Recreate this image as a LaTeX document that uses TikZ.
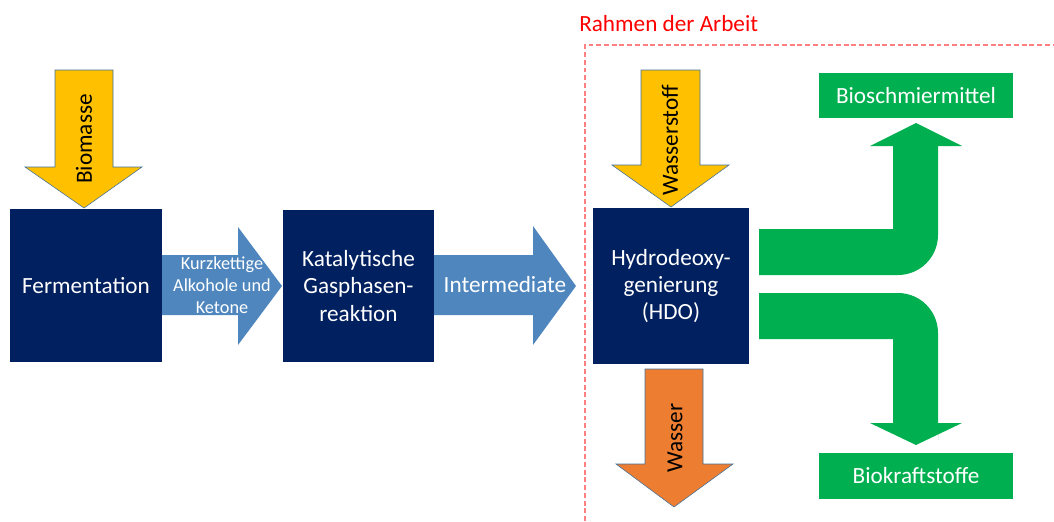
\documentclass[tikz,border=0pt]{standalone}
\usepackage{fontspec}
\setmainfont{Carlito}

\definecolor{navy}{HTML}{002060}
\definecolor{pfeilblau}{HTML}{4F86BE}
\definecolor{gelb}{HTML}{FFC000}
\definecolor{orangepf}{HTML}{ED7D31}
\definecolor{gruen}{HTML}{00B050}
\definecolor{umriss}{HTML}{41719C}
\definecolor{rahmenrot}{HTML}{FF8080}

\tikzset{
  prozess/.style={fill=navy, text=white, align=center, inner sep=0pt,
    font=\fontsize{16.5}{19.5}\selectfont},
  produkt/.style={fill=gruen, text=white, inner sep=0pt,
    minimum width=4.85cm, minimum height=1.14cm, font=\fontsize{16.5}{19}\selectfont},
  pfeilgelb/.style={fill=gelb, draw=umriss, line width=0.4pt},
  pfeilorange/.style={fill=orangepf, draw=umriss, line width=0.4pt},
  pfeilblau/.style={fill=pfeilblau},
  pfeilgruen/.style={fill=gruen},
  stofftext/.style={rotate=90, text=black, font=\fontsize{16.5}{19}\selectfont},
  rahmenlinie/.style={draw=rahmenrot, line width=0.8pt, dash pattern=on 3.5pt off 2pt},
}

\begin{document}
\begin{tikzpicture}[x=0.025cm,y=-0.025cm]
  \useasboundingbox (0,0) rectangle (1054,521);

  % Prozessschritte
  \node[prozess, minimum width=3.8cm, minimum height=3.825cm] (ferm) at (86,285.5) {Fermentation};
  \node[prozess, minimum width=3.775cm, minimum height=3.8cm] (kat) at (358.5,286) {Katalytische\\Gasphasen-\\reaktion};
  \node[prozess, minimum width=3.9cm, minimum height=3.9cm] (hdo) at (671,286) {Hydrodeoxy-\\genierung\\(HDO)};

  % Produkte
  \node[produkt] (bsm) at (916,95.5) {Bioschmiermittel};
  \node[produkt] (bks) at (916,476) {Biokraftstoffe};

  % Zufuhr / Abfuhr
  \draw[pfeilgelb] (55,70) -- (113,70) -- (113,167) -- (142,167) -- (84,208) -- (25,167) -- (55,167) -- cycle;
  \node[stofftext] (biomasse) at (84,139) {Biomasse};

  \draw[pfeilgelb] (641,70) -- (700,70) -- (700,165) -- (729,165) -- (671,207) -- (612,165) -- (641,165) -- cycle;
  \node[stofftext] (wasserstoff) at (670,140) {Wasserstoff};

  \draw[pfeilorange] (645,369) -- (703,369) -- (703,464) -- (733,464) -- (674,507) -- (616,464) -- (645,464) -- cycle;
  \node[stofftext] (wasser) at (675,438) {Wasser};

  % Zwischenprodukte
  \fill[pfeilblau] (162,255) -- (238,255) -- (238,227) -- (282,286) -- (238,345) -- (238,315) -- (162,315) -- cycle;
  \node[text=white, align=center, font=\fontsize{13}{15.5}\selectfont] (kurz) at (222,285) {Kurzkettige\\Alkohole und\\Ketone};

  \fill[pfeilblau] (434,255) -- (533,255) -- (533,226) -- (576,286) -- (533,345) -- (533,315) -- (434,315) -- cycle;
  \node[text=white, font=\fontsize{16.5}{19}\selectfont] (inter) at (505,285) {Intermediate};

  % Aufteilung nach HDO
  \fill[pfeilgruen] (759,229) -- (893,229) -- (893,146) -- (870,146) -- (916,123) -- (962,146)
    -- (938,146) -- (938,160) [rounded corners=1cm] -- (938,275) -- (800,275) [sharp corners] -- (759,275) -- cycle;
  \fill[pfeilgruen] (759,293) [rounded corners=1cm] -- (938,293) -- (938,400) [sharp corners] -- (938,423)
    -- (962,423) -- (916,445) -- (870,423) -- (893,423) -- (893,339) -- (759,339) -- cycle;

  % Rahmen
  \path[rahmenlinie] (585,521) -- (585,45) -- (1054,45);
  \node[anchor=west, text=red, inner sep=0pt, font=\fontsize{16.5}{19}\selectfont] (rahmen) at (579,24) {Rahmen der Arbeit};
\end{tikzpicture}
\end{document}
